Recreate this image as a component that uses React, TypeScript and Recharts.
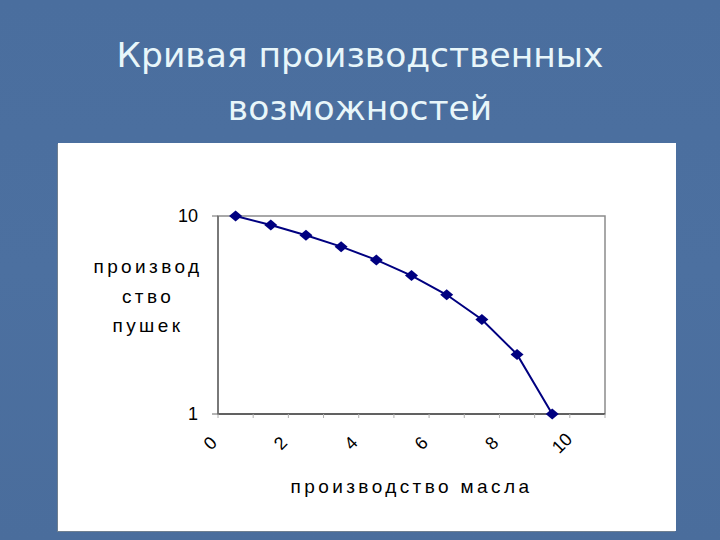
import { LineChart, Line, XAxis, YAxis, ReferenceArea, Label } from "recharts"

// производство масла (position on the horizontal axis) and производство пушек
const butter = [0.5, 1.5, 2.5, 3.5, 4.5, 5.5, 6.5, 7.5, 8.5, 9.5]
const guns = [10, 9, 8, 7, 6, 5, 4, 3, 2, 1]

const xTicks = [0, 1, 2, 3, 4, 5, 6, 7, 8, 9, 10, 11]
const xLabels = [0, 2, 4, 6, 8, 10]
const yTicks = [1, 10]

const titleLines = ["Кривая производственных", "возможностей"]
const yTitleLines = ["производ", "ство", "пушек"]
const xTitle = "производство масла"

const data = butter.map((b, i) => ({ butter: b, guns: guns[i] }))

const NAVY = "#000080"
const AXIS_FONT = "'Liberation Sans', Arial, sans-serif"

function Diamond(props: any) {
  const { cx, cy, index } = props
  if (cx == null || cy == null) return <g key={index} />
  return (
    <polygon
      key={index}
      points={`${cx},${cy - 5.5} ${cx + 6.5},${cy} ${cx},${cy + 5.5} ${cx - 6.5},${cy}`}
      fill={NAVY}
    />
  )
}

function XTick(props: any) {
  const { x, y, payload } = props
  if (!xLabels.includes(payload.value)) return <g />
  return (
    <text
      transform={`translate(${x - 8},${y + 25}) rotate(-45)`}
      textAnchor="middle"
      dy="0.35em"
      fontSize={18}
      fontFamily={AXIS_FONT}
      fill="#000"
    >
      {payload.value}
    </text>
  )
}

function YTitle() {
  return (
    <g>
      {yTitleLines.map((t, i) => (
        <text
          key={t}
          x={90}
          y={130 + i * 29.5}
          textAnchor="middle"
          fontSize={19}
          letterSpacing={3.4}
          fontFamily={AXIS_FONT}
          fill="#000"
        >
          {t}
        </text>
      ))}
    </g>
  )
}

function XTitle(props: any) {
  const { viewBox } = props
  return (
    <text
      x={viewBox.x + viewBox.width / 2}
      y={350}
      textAnchor="middle"
      fontSize={19}
      letterSpacing={3.4}
      fontFamily={AXIS_FONT}
      fill="#000"
    >
      {xTitle}
    </text>
  )
}

export default function App() {
  return (
    <div
      style={{
        position: "absolute",
        left: 0,
        top: 0,
        width: 720,
        height: 540,
        overflow: "hidden",
        background: "linear-gradient(180deg, #4a6e9e 0%, #4c70a0 50%, #4a6d9c 100%)",
      }}
    >
      <svg width={720} height={140} style={{ position: "absolute", left: 0, top: 0 }}>
        {titleLines.map((t, i) => (
          <text
            key={t}
            x={360}
            y={67 + i * 53}
            textAnchor="middle"
            fontSize={34.5}
            fontFamily="'DejaVu Sans', Tahoma, sans-serif"
            fill="#e8f6fa"
          >
            {t}
          </text>
        ))}
      </svg>
      <div
        style={{
          position: "absolute",
          left: 58,
          top: 143,
          width: 618,
          height: 388,
          background: "#fff",
          boxShadow: "-1px 1px 0 #6f7f90",
        }}
      >
        <LineChart
          width={618}
          height={388}
          data={data}
          margin={{ top: 73, right: 71, left: 100, bottom: 57 }}
        >
          <ReferenceArea x1={0} x2={11} y1={1} y2={10} fill="none" stroke="#8c8c8c" strokeWidth={1.5} />
          <XAxis
            type="number"
            dataKey="butter"
            domain={[0, 11]}
            ticks={xTicks}
            interval={0}
            height={60}
            tickSize={4}
            tickMargin={0}
            tickLine={{ stroke: "#b0b0b0" }}
            axisLine={{ stroke: "#4a4a4a", strokeWidth: 1.5 }}
            tick={<XTick />}
          >
            <Label content={<XTitle />} />
          </XAxis>
          <YAxis
            type="number"
            scale="log"
            dataKey="guns"
            domain={[1, 10]}
            ticks={yTicks}
            interval={0}
            width={60}
            tickSize={6}
            tickMargin={14}
            tickLine={{ stroke: "#6a6a6a" }}
            axisLine={{ stroke: "#6a6a6a", strokeWidth: 1.5 }}
            tick={{ fontSize: 18, fill: "#000", fontFamily: AXIS_FONT }}
          >
            <Label content={<YTitle />} />
          </YAxis>
          <Line
            type="linear"
            dataKey="guns"
            stroke={NAVY}
            strokeWidth={2}
            dot={<Diamond />}
            activeDot={false}
            isAnimationActive={false}
          />
        </LineChart>
      </div>
    </div>
  )
}
